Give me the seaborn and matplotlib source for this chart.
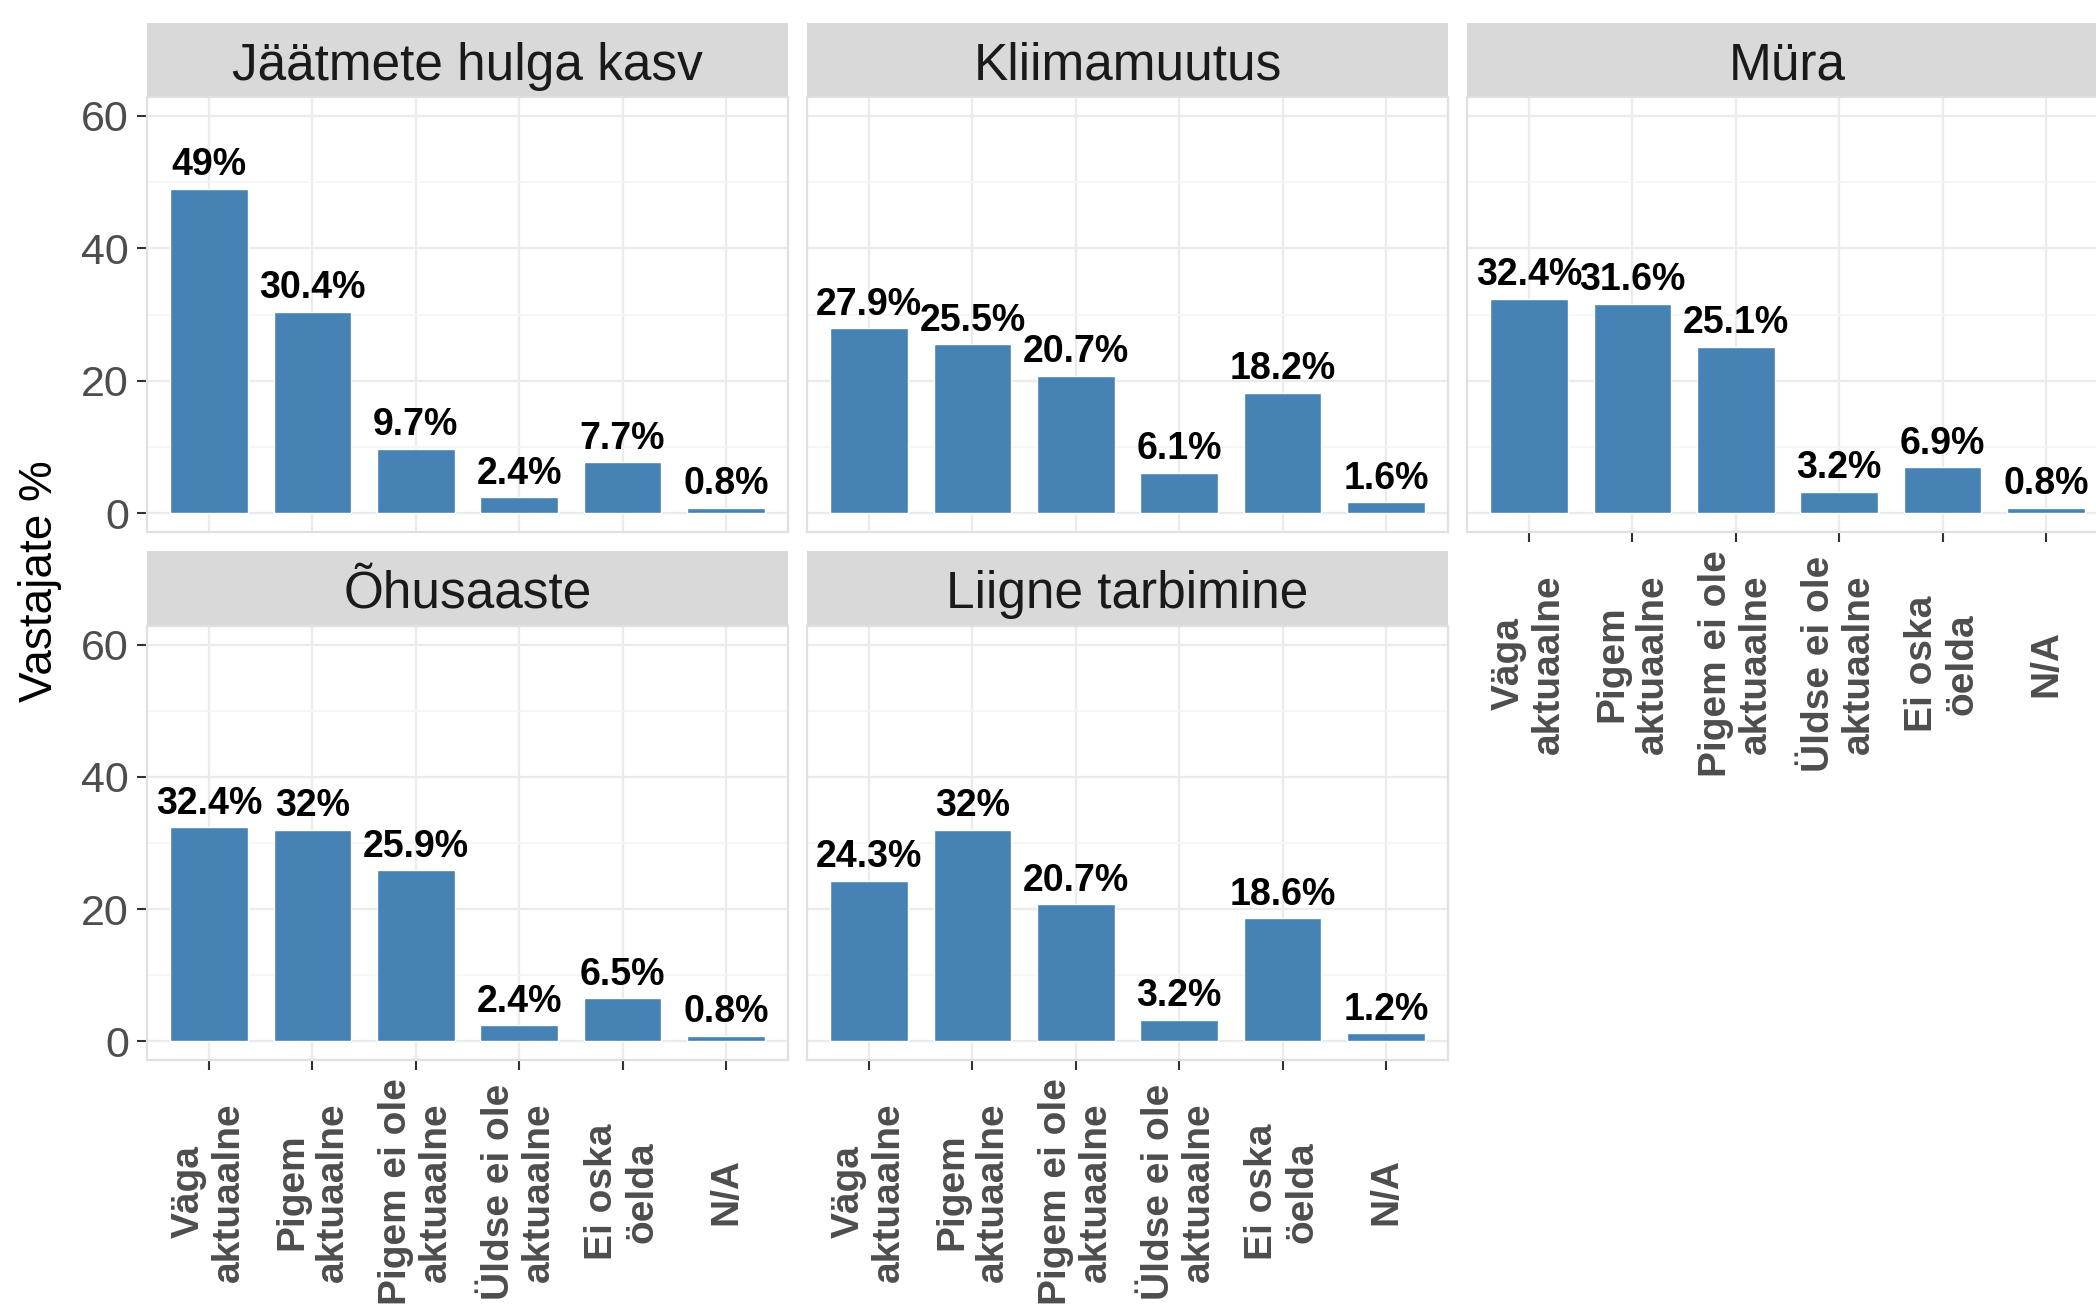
import numpy as np
import pandas as pd
import matplotlib
matplotlib.use("Agg")
import matplotlib.pyplot as plt
from matplotlib.patches import Rectangle
from matplotlib.ticker import FixedLocator
import seaborn as sns

sns.set_style("whitegrid")
plt.rcParams['font.family'] = ['Liberation Sans', 'DejaVu Sans']

# andmed
categories = ["Väga\naktuaalne", "Pigem\naktuaalne", "Pigem ei ole\naktuaalne",
              "Üldse ei ole\naktuaalne", "Ei oska\nöelda", "N/A"]
topics = ["Jäätmete hulga kasv", "Kliimamuutus", "Müra", "Õhusaaste", "Liigne tarbimine"]
jaatmed = [49, 30.4, 9.7, 2.4, 7.7, 0.8]
kliima = [27.9, 25.5, 20.7, 6.1, 18.2, 1.6]
mura = [32.4, 31.6, 25.1, 3.2, 6.9, 0.8]
ohusaaste = [32.4, 32, 25.9, 2.4, 6.5, 0.8]
tarbimine = [24.3, 32, 20.7, 3.2, 18.6, 1.2]
values = [jaatmed, kliima, mura, ohusaaste, tarbimine]

W, H = 2096, 1306
fig = plt.figure(figsize=(W / 100, H / 100), dpi=100)

col_left = [147, 807, 1467]
pw = 641
rows = [(97, 435, 74), (626, 434, 75)]  # paneeli ülaserv, kõrgus, riba kõrgus

BAR = '#4682B4'
GRID = '#EBEBEB'
TXT = '#4D4D4D'

for k, (topic, vals) in enumerate(zip(topics, values)):
    r, c = divmod(k, 3)
    top, ph, sh = rows[r]
    ax = fig.add_axes([col_left[c] / W, 1 - (top + ph) / H, pw / W, ph / H])
    df = pd.DataFrame({'kategooria': categories, 'protsent': vals})
    sns.barplot(data=df, x='kategooria', y='protsent', order=categories,
                color=BAR, saturation=1, width=0.75, ax=ax)
    ax.bar_label(ax.containers[0], labels=[f"{v:g}%" for v in vals],
                 padding=4, fontsize=27, fontweight='bold', color='black')

    ax.set_xlim(-0.6, 5.6)
    ax.set_ylim(-2.87, 62.87)
    ax.set_xlabel('')
    ax.set_ylabel('')
    ax.set_yticks([0, 20, 40, 60])
    ax.yaxis.set_minor_locator(FixedLocator([10, 30, 50]))
    ax.set_axisbelow(True)
    ax.grid(True, which='major', color=GRID, linewidth=1.6)
    ax.grid(True, which='minor', axis='y', color='#F5F5F5', linewidth=1.2)
    for s in ax.spines.values():
        s.set_visible(True)
        s.set_color('#E0E0E0')
        s.set_linewidth(1.6)

    ax.tick_params(which='minor', length=0)
    if c == 0:
        ax.tick_params(axis='y', length=7, width=1.5, color='#333333', pad=6,
                       labelsize=31, labelcolor=TXT, left=True)
    else:
        ax.tick_params(axis='y', left=False, labelleft=False)

    show_x = (r == 1) or (c == 2)
    if show_x:
        ax.set_xticks(range(len(categories)))
        ax.set_xticklabels(categories, rotation=90, ha='center', va='center',
                           multialignment='center', linespacing=1.15,
                           fontsize=28, fontweight='bold', color=TXT)
        ax.tick_params(axis='x', length=7, width=1.5, color='#333333', pad=88,
                       bottom=True)
    else:
        ax.tick_params(axis='x', bottom=False, labelbottom=False)

    # riba pealkiri (strip)
    frac = sh / ph
    ax.add_patch(Rectangle((0, 1), 1, frac, transform=ax.transAxes, clip_on=False,
                           facecolor='#D9D9D9', edgecolor='none'))
    ax.text(0.5, 1 + frac / 2 - 6 / ph, topic, transform=ax.transAxes, ha='center',
            va='center', fontsize=37, color='#1A1A1A')

fig.text(40 / W, 1 - 581 / H, 'Vastajate %', rotation=90, ha='center',
         va='center', fontsize=33, color='black')

fig.savefig('out.png', dpi=100)
